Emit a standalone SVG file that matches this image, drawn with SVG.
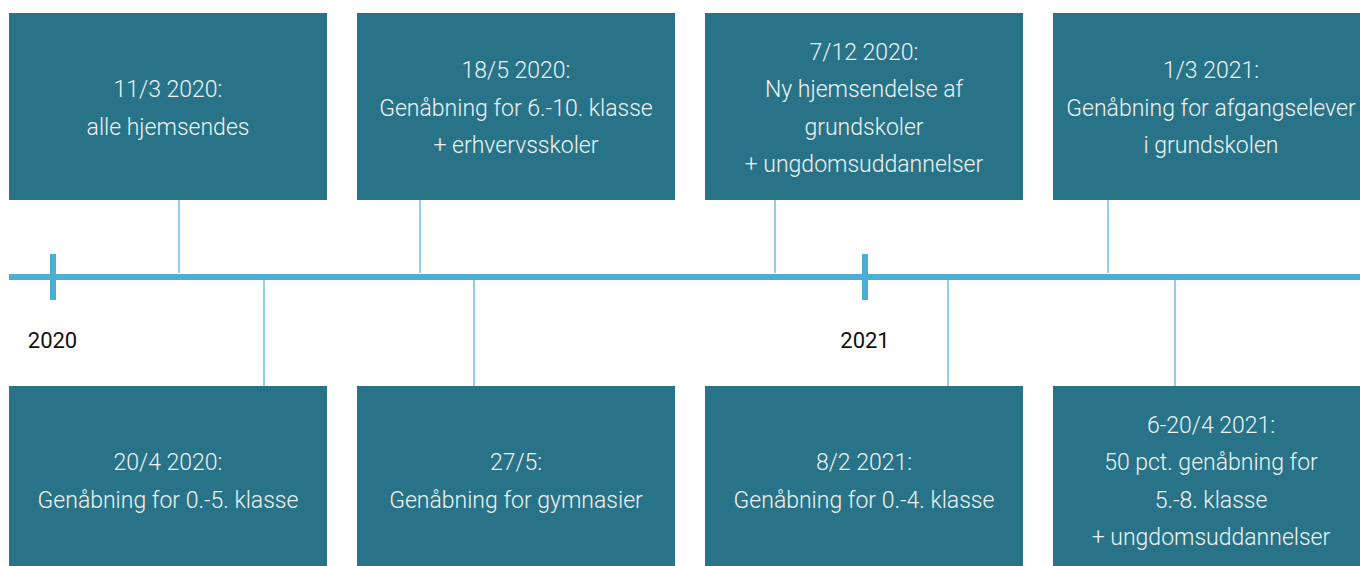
<svg xmlns="http://www.w3.org/2000/svg" width="1360" height="566" viewBox="0 0 1360 566">
<style>
.box{fill:#287387}
.t{font-family:Roboto,"Liberation Sans",sans-serif;font-size:23px;font-weight:300;fill:#EEF3F5;text-anchor:middle}
.yr{font-family:Roboto,"Liberation Sans",sans-serif;font-size:22px;fill:#111111;text-anchor:middle}
.conn{stroke:#6CBFE0;stroke-width:1.5;fill:none}
.axis{stroke:#4BAED7;fill:none}
</style>
<rect width="1360" height="566" fill="#ffffff"/>
<g id="connectors">
<line class="axis" x1="9" y1="277" x2="1360" y2="277" stroke-width="6"/>
<line class="axis" x1="53" y1="254" x2="53" y2="300" stroke-width="6"/>
<line class="axis" x1="865" y1="254" x2="865" y2="300" stroke-width="6"/>
<line class="conn" x1="179" y1="200" x2="179" y2="273"/>
<line class="conn" x1="420" y1="200" x2="420" y2="273"/>
<line class="conn" x1="775" y1="200" x2="775" y2="273"/>
<line class="conn" x1="1108" y1="200" x2="1108" y2="273"/>
<line class="conn" x1="264" y1="280" x2="264" y2="386"/>
<line class="conn" x1="474" y1="280" x2="474" y2="386"/>
<line class="conn" x1="948" y1="280" x2="948" y2="386"/>
<line class="conn" x1="1175" y1="280" x2="1175" y2="386"/>
</g>
<g id="year-2020"><text class="yr" x="52.5" y="348">2020</text></g>
<g id="year-2021"><text class="yr" x="865" y="348">2021</text></g>
<g id="n1">
<rect class="box" x="9" y="13" width="318" height="187"/>
<text class="t" x="168" y="97">11/3 2020:</text>
<text class="t" x="168" y="134.5">alle hjemsendes</text>
</g>
<g id="n2">
<rect class="box" x="357" y="13" width="318" height="187"/>
<text class="t" x="516" y="78.25">18/5 2020:</text>
<text class="t" x="516" y="115.75">Genåbning for 6.-10. klasse</text>
<text class="t" x="516" y="153.25">+ erhvervsskoler</text>
</g>
<g id="n3">
<rect class="box" x="705" y="13" width="318" height="187"/>
<text class="t" x="864" y="59.5">7/12 2020:</text>
<text class="t" x="864" y="97">Ny hjemsendelse af</text>
<text class="t" x="864" y="134.5">grundskoler</text>
<text class="t" x="864" y="172">+ ungdomsuddannelser</text>
</g>
<g id="n4">
<rect class="box" x="1053" y="13" width="318" height="187"/>
<text class="t" x="1211" y="78.25">1/3 2021:</text>
<text class="t" x="1211" y="115.75">Genåbning for afgangselever</text>
<text class="t" x="1211" y="153.25">i grundskolen</text>
</g>
<g id="n5">
<rect class="box" x="9" y="386" width="318" height="187"/>
<text class="t" x="168" y="470">20/4 2020:</text>
<text class="t" x="168" y="507.5">Genåbning for 0.-5. klasse</text>
</g>
<g id="n6">
<rect class="box" x="357" y="386" width="318" height="187"/>
<text class="t" x="516" y="470">27/5:</text>
<text class="t" x="516" y="507.5">Genåbning for gymnasier</text>
</g>
<g id="n7">
<rect class="box" x="705" y="386" width="318" height="187"/>
<text class="t" x="864" y="470">8/2 2021:</text>
<text class="t" x="864" y="507.5">Genåbning for 0.-4. klasse</text>
</g>
<g id="n8">
<rect class="box" x="1053" y="386" width="318" height="187"/>
<text class="t" x="1211" y="432.5">6-20/4 2021:</text>
<text class="t" x="1211" y="470">50 pct. genåbning for</text>
<text class="t" x="1211" y="507.5">5.-8. klasse</text>
<text class="t" x="1211" y="545">+ ungdomsuddannelser</text>
</g>
</svg>
